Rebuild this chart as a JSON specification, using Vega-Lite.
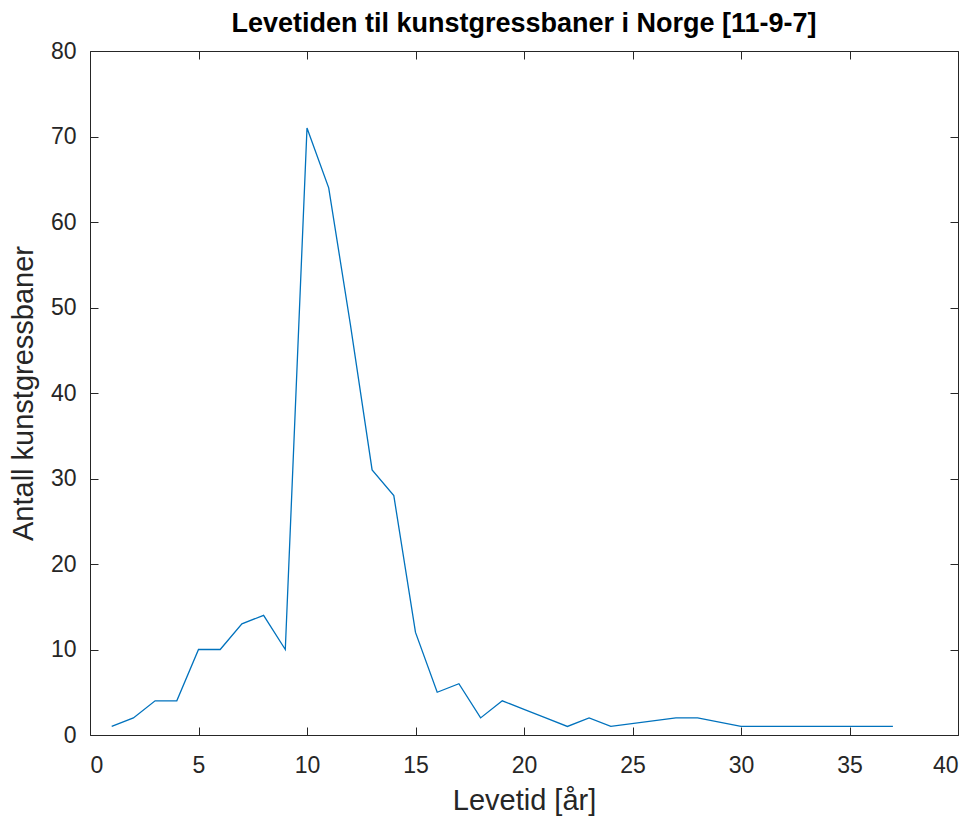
{
  "$schema": "https://vega.github.io/schema/vega-lite/v6.json",
  "width": 868,
  "height": 684,
  "autosize": {"type": "none"},
  "padding": {"left": 90, "top": 51, "right": 18, "bottom": 86},
  "background": "white",
  "config": {
    "view": {"stroke": "#262626", "strokeWidth": 1},
    "font": "Liberation Sans",
    "axis": {
      "grid": false,
      "domain": false,
      "tickColor": "#262626",
      "tickSize": -8,
      "labelColor": "#262626",
      "labelFont": "Liberation Sans",
      "labelFontSize": 23,
      "titleColor": "#262626",
      "titleFont": "Liberation Sans",
      "titleFontSize": 29,
      "titleFontWeight": "normal"
    }
  },
  "title": {
    "text": "Levetiden til kunstgressbaner i Norge [11-9-7]",
    "font": "Liberation Sans",
    "fontSize": 27,
    "fontWeight": "bold",
    "color": "#000000",
    "baseline": "alphabetic",
    "offset": -19,
    "anchor": "middle"
  },
  "data": {
    "values": [
      {"levetid": 1, "antall": 1},
      {"levetid": 2, "antall": 2},
      {"levetid": 3, "antall": 4},
      {"levetid": 4, "antall": 4},
      {"levetid": 5, "antall": 10},
      {"levetid": 6, "antall": 10},
      {"levetid": 7, "antall": 13},
      {"levetid": 8, "antall": 14},
      {"levetid": 9, "antall": 10},
      {"levetid": 10, "antall": 71},
      {"levetid": 11, "antall": 64},
      {"levetid": 12, "antall": 48},
      {"levetid": 13, "antall": 31},
      {"levetid": 14, "antall": 28},
      {"levetid": 15, "antall": 12},
      {"levetid": 16, "antall": 5},
      {"levetid": 17, "antall": 6},
      {"levetid": 18, "antall": 2},
      {"levetid": 19, "antall": 4},
      {"levetid": 20, "antall": 3},
      {"levetid": 21, "antall": 2},
      {"levetid": 22, "antall": 1},
      {"levetid": 23, "antall": 2},
      {"levetid": 24, "antall": 1},
      {"levetid": 27, "antall": 2},
      {"levetid": 28, "antall": 2},
      {"levetid": 30, "antall": 1},
      {"levetid": 31, "antall": 1},
      {"levetid": 32, "antall": 1},
      {"levetid": 33, "antall": 1},
      {"levetid": 34, "antall": 1},
      {"levetid": 35, "antall": 1},
      {"levetid": 36, "antall": 1},
      {"levetid": 37, "antall": 1}
    ]
  },
  "resolve": {"axis": {"x": "independent", "y": "independent"}},
  "layer": [
    {
      "mark": {"type": "line", "color": "#0072BD", "strokeWidth": 1.3, "clip": true},
      "encoding": {
        "x": {
          "field": "levetid",
          "type": "quantitative",
          "scale": {"domain": [0, 40], "nice": false, "zero": false},
          "axis": {"values": [0, 5, 10, 15, 20, 25, 30, 35, 40], "title": "Levetid [år]", "labelPadding": 27, "titlePadding": 9}
        },
        "y": {
          "field": "antall",
          "type": "quantitative",
          "scale": {"domain": [0, 80], "nice": false},
          "axis": {"values": [0, 10, 20, 30, 40, 50, 60, 70, 80], "title": "Antall kunstgressbaner", "labelPadding": 22, "titlePadding": 12}
        }
      }
    },
    {
      "mark": {"type": "line", "opacity": 0},
      "encoding": {
        "x": {
          "field": "levetid",
          "type": "quantitative",
          "scale": {"domain": [0, 40], "nice": false, "zero": false},
          "axis": {"orient": "top", "values": [0, 5, 10, 15, 20, 25, 30, 35, 40], "labels": false, "title": null}
        },
        "y": {
          "field": "antall",
          "type": "quantitative",
          "scale": {"domain": [0, 80], "nice": false},
          "axis": {"orient": "right", "values": [0, 10, 20, 30, 40, 50, 60, 70, 80], "labels": false, "title": null}
        }
      }
    }
  ]
}
